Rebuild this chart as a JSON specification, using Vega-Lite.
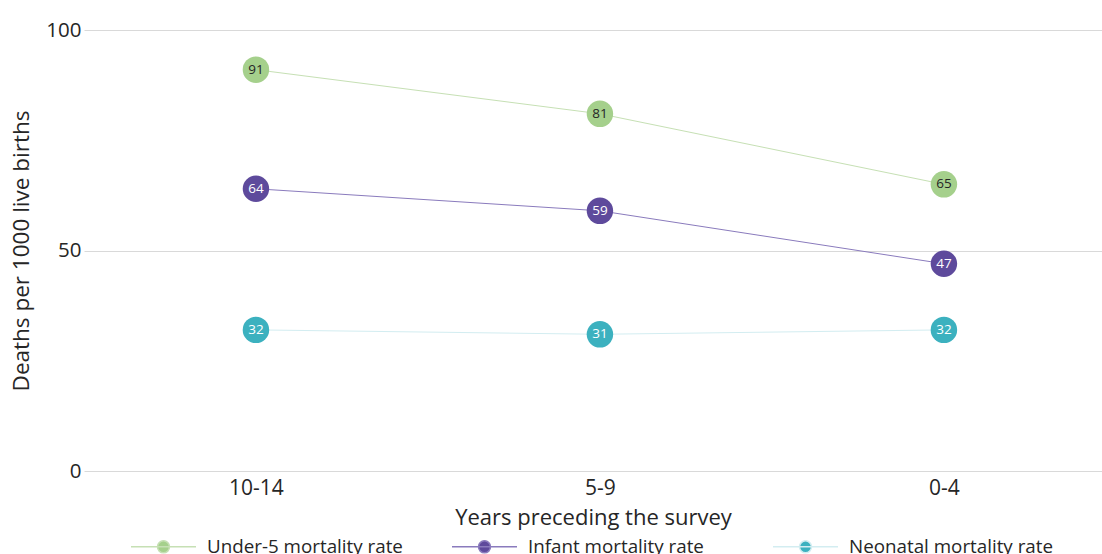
{
  "$schema": "https://vega.github.io/schema/vega-lite/v6.json",
  "autosize": {"type": "none"},
  "width": 1018,
  "height": 441,
  "padding": {"left": 84, "top": 30, "right": 0, "bottom": 83},
  "background": "white",
  "config": {
    "view": {"stroke": null},
    "font": "Open Sans",
    "axis": {"labelColor": "#262626", "titleColor": "#262626", "titleFontWeight": "normal", "labelFont": "Open Sans"},
    "legend": {"labelFont": "Open Sans", "labelColor": "#262626", "labelLimit": 0}
  },
  "data": {
    "values": [
      {"period": "10-14", "series": "Under-5 mortality rate", "rate": 91},
      {"period": "5-9", "series": "Under-5 mortality rate", "rate": 81},
      {"period": "0-4", "series": "Under-5 mortality rate", "rate": 65},
      {"period": "10-14", "series": "Infant mortality rate", "rate": 64},
      {"period": "5-9", "series": "Infant mortality rate", "rate": 59},
      {"period": "0-4", "series": "Infant mortality rate", "rate": 47},
      {"period": "10-14", "series": "Neonatal mortality rate", "rate": 32},
      {"period": "5-9", "series": "Neonatal mortality rate", "rate": 31},
      {"period": "0-4", "series": "Neonatal mortality rate", "rate": 32}
    ]
  },
  "encoding": {
    "x": {
      "field": "period", "type": "ordinal", "sort": ["10-14", "5-9", "0-4"],
      "scale": {"type": "point", "padding": 0.4797, "align": 0.521},
      "axis": {"title": "Years preceding the survey", "titleFont": "Open Sans", "labelAngle": 0, "domain": false, "ticks": false, "labelFontSize": 21, "labelPadding": 6, "titleFontSize": 22, "titlePadding": 9}
    },
    "y": {
      "field": "rate", "type": "quantitative",
      "scale": {"domain": [0, 100], "nice": false},
      "axis": {"title": "Deaths per 1000 live births", "titleFont": "Open Sans", "values": [0, 50, 100], "domain": false, "ticks": false, "grid": true, "gridColor": "#d9d9d9", "gridWidth": 1, "labelFontSize": 20.5, "labelPadding": 3, "titleFontSize": 22.5, "titlePadding": 12}
    }
  },
  "layer": [
    {
      "mark": {"type": "line", "strokeWidth": 1},
      "encoding": {
        "stroke": {
          "field": "series", "type": "nominal",
          "scale": {"domain": ["Under-5 mortality rate", "Infant mortality rate", "Neonatal mortality rate"], "range": ["#c6e0b4", "#8a7bbd", "#d3edf1"]},
          "legend": {
            "title": null, "orient": "none", "legendX": 46, "legendY": 483, "direction": "horizontal", "columns": 3,
            "gridAlign": "all", "columnPadding": 38, "padding": 0, "labelLimit": 0,
            "symbolType": "M-1,0L1,0M0.185,0A0.185,0.185,0,1,1,-0.185,0A0.185,0.185,0,1,1,0.185,0Z",
            "symbolSize": 4225, "symbolStrokeWidth": 1.5,
            "labelFontSize": 18.8, "labelOffset": 10
          }
        }
      }
    },
    {
      "mark": {"type": "circle", "size": 700, "opacity": 1},
      "encoding": {
        "fill": {
          "field": "series", "type": "nominal",
          "scale": {"domain": ["Under-5 mortality rate", "Infant mortality rate", "Neonatal mortality rate"], "range": ["#a5d08c", "#5e4a9c", "#3cb1bf"]},
          "legend": {
            "title": null, "orient": "none", "legendX": 46, "legendY": 483, "direction": "horizontal", "columns": 3,
            "gridAlign": "all", "columnPadding": 38, "padding": 0, "labelLimit": 0,
            "symbolType": "M-1,0L1,0M0.185,0A0.185,0.185,0,1,1,-0.185,0A0.185,0.185,0,1,1,0.185,0Z",
            "symbolSize": 4225, "symbolStrokeWidth": 1.5,
            "labelFontSize": 18.8, "labelOffset": 10
          }
        }
      }
    },
    {
      "mark": {"type": "text", "fontSize": 13.5, "align": "center", "baseline": "middle"},
      "encoding": {
        "text": {"field": "rate", "type": "quantitative"},
        "color": {"condition": {"test": "datum.series === 'Under-5 mortality rate'", "value": "#262626"}, "value": "white"}
      }
    }
  ]
}
